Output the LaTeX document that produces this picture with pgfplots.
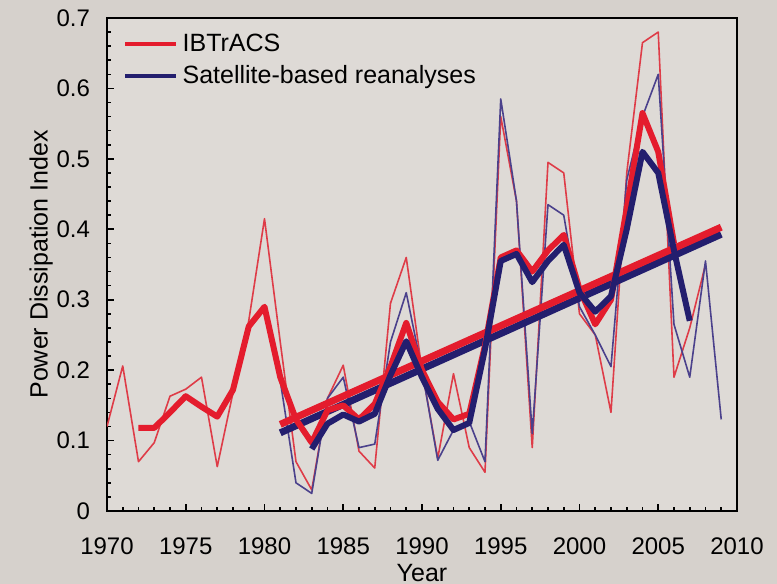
\documentclass[border=0pt]{standalone}
\usepackage{pgfplots}
\pgfplotsset{compat=1.18}
\usepackage{fontspec}
\setmainfont{Liberation Sans}
\definecolor{bgc}{RGB}{214,209,204}
\definecolor{plotbg}{RGB}{222,218,214}
\definecolor{ibred}{RGB}{228,28,45}
\definecolor{ibthin}{RGB}{222,60,72}
\definecolor{satblue}{RGB}{35,30,110}
\definecolor{satthin}{RGB}{75,65,140}
\begin{document}
\begin{tikzpicture}
\fill[bgc] (-53.5pt,-36.5pt) rectangle (335pt,255.5pt);
\begin{axis}[
  at={(0,0)}, anchor=south west,
  scale only axis, width=315pt, height=246.5pt,
  xmin=1970, xmax=2010, ymin=0, ymax=0.7,
  axis background/.style={fill=plotbg},
  axis line style={line width=1pt},
  xtick={1970,1975,1980,1985,1990,1995,2000,2005,2010},
  ytick={0,0.1,0.2,0.3,0.4,0.5,0.6,0.7},
  yticklabels={0,0.1,0.2,0.3,0.4,0.5,0.6,0.7},
  minor x tick num=4, minor y tick num=4,
  tick align=inside, xtick pos=bottom, ytick pos=left,
  major tick length=3.5pt, minor tick length=2pt,
  tick style={black, line width=0.8pt},
  /pgf/number format/assume math mode=true,
  /pgf/number format/1000 sep={},
  tick label style={font=\fontsize{12}{14}\selectfont},
  xticklabel style={yshift=-10pt},
  yticklabel style={xshift=-5pt},
  xlabel={Year}, ylabel={Power Dissipation Index},
  label style={font=\fontsize{12.5}{15}\selectfont},
  xlabel style={at={(axis description cs:0.5,0)}, anchor=base, inner sep=0pt, yshift=-35.3pt},
  ylabel style={yshift=-5pt},
  legend style={at={(axis description cs:0.015,0.985)}, anchor=north west, draw=none, fill=none,
    font=\fontsize{12.5}{15}\selectfont, row sep=1.5pt, cells={anchor=west}},
  legend image code/.code={\draw[#1, line width=2.3pt] (0cm,0cm) -- (0.9cm,0cm);},
  every axis plot/.append style={line join=round},
]
% thin IBTrACS annual
\addplot[ibthin, line width=0.8pt, forget plot] coordinates {
(1970,0.12)(1971,0.206)(1972,0.07)(1973,0.097)(1974,0.163)(1975,0.173)(1976,0.19)(1977,0.063)(1978,0.168)(1979,0.27)(1980,0.415)(1981,0.24)(1982,0.07)(1983,0.03)(1984,0.16)(1985,0.207)(1986,0.085)(1987,0.061)(1988,0.295)(1989,0.36)(1990,0.2)(1991,0.075)(1992,0.195)(1993,0.09)(1994,0.055)(1995,0.56)(1996,0.44)(1997,0.09)(1998,0.495)(1999,0.48)(2000,0.28)(2001,0.25)(2002,0.14)(2003,0.48)(2004,0.665)(2005,0.68)(2006,0.19)(2007,0.26)(2008,0.35)};
% thin satellite annual
\addplot[satthin, line width=0.8pt, forget plot] coordinates {
(1981,0.185)(1982,0.04)(1983,0.025)(1984,0.16)(1985,0.19)(1986,0.09)(1987,0.095)(1988,0.24)(1989,0.31)(1990,0.2)(1991,0.072)(1992,0.115)(1993,0.127)(1994,0.07)(1995,0.585)(1996,0.44)(1997,0.11)(1998,0.435)(1999,0.42)(2000,0.29)(2001,0.25)(2002,0.205)(2003,0.47)(2004,0.56)(2005,0.62)(2006,0.265)(2007,0.19)(2008,0.355)(2009,0.13)};
% trends
\addplot[satblue, line width=3.5pt, forget plot] coordinates {(1981,0.111)(2009,0.393)};
\addplot[ibred, line width=3.5pt, forget plot] coordinates {(1981,0.123)(2009,0.403)};
% smoothed
\addplot[ibred, line width=3pt] coordinates {
(1972,0.118)(1973,0.118)(1974,0.14)(1975,0.163)(1976,0.148)(1977,0.134)(1978,0.172)(1979,0.262)(1980,0.29)(1981,0.19)(1982,0.13)(1983,0.097)(1984,0.143)(1985,0.15)(1986,0.13)(1987,0.152)(1988,0.205)(1989,0.267)(1990,0.2)(1991,0.155)(1992,0.13)(1993,0.138)(1994,0.235)(1995,0.36)(1996,0.37)(1997,0.34)(1998,0.37)(1999,0.392)(2000,0.315)(2001,0.265)(2002,0.3)(2003,0.43)(2004,0.565)(2005,0.51)(2006,0.38)};
\addlegendentry{IBTrACS}
\addplot[satblue, line width=3pt] coordinates {
(1983,0.088)(1984,0.124)(1985,0.137)(1986,0.127)(1987,0.138)(1988,0.193)(1989,0.241)(1990,0.19)(1991,0.145)(1992,0.115)(1993,0.125)(1994,0.23)(1995,0.355)(1996,0.365)(1997,0.325)(1998,0.355)(1999,0.378)(2000,0.31)(2001,0.283)(2002,0.305)(2003,0.4)(2004,0.51)(2005,0.48)(2006,0.37)(2007,0.27)};
\addlegendentry{Satellite-based reanalyses}
\end{axis}
\pgfresetboundingbox
\path[use as bounding box] (-53.5pt,-36.5pt) rectangle (335pt,255.5pt);
\end{tikzpicture}
\end{document}
